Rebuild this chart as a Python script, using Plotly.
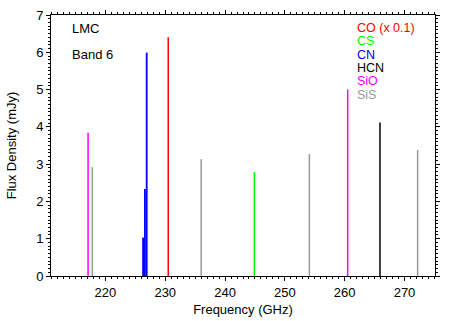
import plotly.graph_objects as go

# line catalogue
species = ['SiO', 'SiS', 'CN', 'CN', 'CN', 'CO', 'SiS', 'CS', 'SiS', 'SiO', 'HCN', 'SiS']
freq_ghz = [217.1, 217.8, 226.3, 226.6, 226.9, 230.5, 236.0, 244.9, 254.1, 260.5, 265.9, 272.2]
flux_mjy = [3.84, 2.92, 1.03, 2.33, 5.99, 64.0, 3.13, 2.79, 3.27, 5.0, 4.12, 3.38]

scale = {'CO': 0.1}
colors = {'CO': '#ff0000', 'CS': '#00ff00', 'CN': '#0000ff',
          'HCN': '#000000', 'SiO': '#ff00ff', 'SiS': '#999999'}
legend_order = ['CO', 'CS', 'CN', 'HCN', 'SiO', 'SiS']
legend_labels = ['CO (x 0.1)', 'CS', 'CN', 'HCN', 'SiO', 'SiS']

fig = go.Figure()

for sp in legend_order:
    xs, ys = [], []
    for s, f, v in zip(species, freq_ghz, flux_mjy):
        if s == sp:
            xs += [f, f, None]
            ys += [0, v * scale.get(s, 1.0), None]
    fig.add_trace(go.Scatter(x=xs, y=ys, mode='lines', name=sp,
                             line=dict(color=colors[sp], width=1.8 if sp == 'CN' else 1.5),
                             showlegend=False, hoverinfo='skip'))

# coloured text legend in the upper right
for i, (sp, lab) in enumerate(zip(legend_order, legend_labels)):
    fig.add_annotation(x=0.795, y=0.95 - i * 0.051, xref='paper', yref='paper',
                       text=lab, showarrow=False, xanchor='left', yanchor='middle',
                       borderpad=0, font=dict(color=colors[sp], size=12.5))

fig.add_annotation(x=0.05, y=0.95, xref='paper', yref='paper', text='LMC',
                   showarrow=False, xanchor='left', yanchor='middle', font=dict(size=13))
fig.add_annotation(x=0.05, y=0.85, xref='paper', yref='paper', text='Band 6',
                   showarrow=False, xanchor='left', yanchor='middle', font=dict(size=13))

axis_style = dict(showline=True, linecolor='black', linewidth=1, mirror='ticks',
                  ticks='outside', ticklen=4, tickcolor='black', showgrid=False,
                  zeroline=False, tickfont=dict(size=13), automargin=False)

fig.update_layout(
    width=458, height=321,
    margin=dict(l=51, r=23, t=15, b=45),
    plot_bgcolor='white', paper_bgcolor='white',
    font=dict(family='Liberation Sans, Arial, sans-serif', color='black', size=13),
    xaxis=dict(range=[210.9, 275.1], dtick=10, tick0=0,
               minor=dict(dtick=1, ticks='outside', ticklen=2, tickcolor='black'),
               title=dict(text='Frequency (GHz)', standoff=6, font=dict(size=13)),
               **axis_style),
    yaxis=dict(range=[0, 7], dtick=1,
               minor=dict(dtick=0.1, ticks='outside', ticklen=2, tickcolor='black'),
               title=dict(text='Flux Density (mJy)', standoff=16, font=dict(size=13)),
               **axis_style),
)

fig.write_html("out.html", config={'displayModeBar': False},
               post_script="document.body.style.margin='0px';")
